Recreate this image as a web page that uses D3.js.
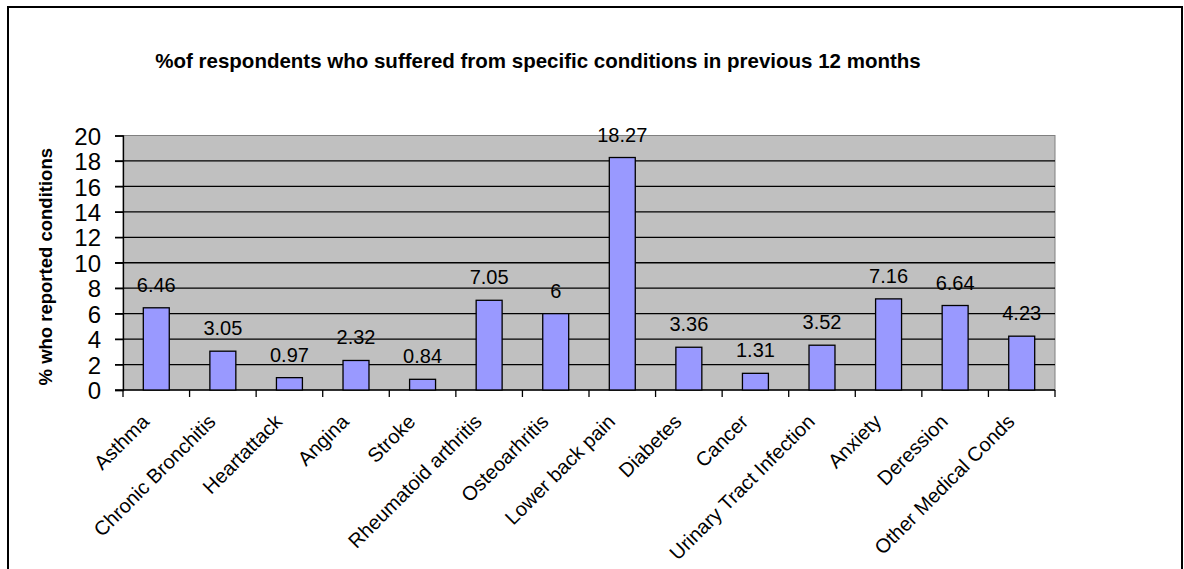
<script src="https://cdnjs.cloudflare.com/ajax/libs/d3/7.8.5/d3.min.js"></script>
<style>
  body { margin: 0; background: #fff; }
  text { font-family: Arial, "Liberation Sans", sans-serif; }
</style>
<body>
<svg id="vis"></svg>
<script>
  var visWidth = 1184
  var visHeight = 569

  var conditions = ['Asthma', 'Chronic Bronchitis', 'Heartattack', 'Angina', 'Stroke',
    'Rheumatoid arthritis', 'Osteoarhritis', 'Lower back pain', 'Diabetes', 'Cancer',
    'Urinary Tract Infection', 'Anxiety', 'Deression', 'Other Medical Conds']
  var percents = [6.46, 3.05, 0.97, 2.32, 0.84, 7.05, 6, 18.27, 3.36, 1.31, 3.52, 7.16, 6.64, 4.23]
  var yTicks = [0, 2, 4, 6, 8, 10, 12, 14, 16, 18, 20]

  var plot = {left: 123, right: 1055, top: 135.5, bottom: 390}

  var svg = d3.select('#vis')
    .attr('width', visWidth)
    .attr('height', visHeight)

  // outer chart frame
  svg.append('rect')
    .attr('x', 8).attr('y', 7)
    .attr('width', 1174).attr('height', 570)
    .attr('fill', 'white')
    .attr('stroke', 'black')
    .attr('stroke-width', 2)

  var x = d3.scaleBand()
    .domain(conditions)
    .range([plot.left, plot.right])
    .paddingInner(0.61)
    .paddingOuter(0.305)

  var y = d3.scaleLinear()
    .domain([0, 20])
    .range([plot.bottom, plot.top])

  // plot area
  svg.append('rect')
    .attr('x', plot.left).attr('y', plot.top)
    .attr('width', plot.right - plot.left)
    .attr('height', plot.bottom - plot.top)
    .attr('fill', '#c0c0c0')
    .attr('stroke', '#808080')

  // gridlines
  svg.selectAll('.grid')
    .data(yTicks.filter(d => d > 0 && d < 20))
    .enter().append('line')
    .attr('x1', plot.left - 8).attr('x2', plot.right)
    .attr('y1', d => y(d)).attr('y2', d => y(d))
    .attr('stroke', 'black')
    .attr('stroke-width', 1.3)

  var yAxis = svg.append('g')
    .attr('transform', 'translate(' + plot.left + ',0)')
    .call(d3.axisLeft(y).tickValues(yTicks).tickSize(8).tickPadding(14))
  yAxis.select('.domain').attr('stroke', 'black').attr('stroke-width', 1.3)
  yAxis.selectAll('line').attr('stroke-width', 1.3)
  yAxis.selectAll('text')
    .attr('font-size', 24)
    .attr('font-family', 'Arial, "Liberation Sans", sans-serif')
    .attr('dy', '0.36em')

  // x axis
  var xAxis = svg.append('g')
    .attr('transform', 'translate(0,' + plot.bottom + ')')
  xAxis.append('line')
    .attr('x1', plot.left - 8).attr('x2', plot.right)
    .attr('stroke', 'black').attr('stroke-width', 1.3)
  xAxis.selectAll('.tick')
    .data(d3.range(conditions.length + 1))
    .enter().append('line')
    .attr('x1', i => plot.left + i * x.step())
    .attr('x2', i => plot.left + i * x.step())
    .attr('y1', 0).attr('y2', 7)
    .attr('stroke', 'black').attr('stroke-width', 1.3)

  xAxis.selectAll('.lbl')
    .data(conditions)
    .enter().append('text')
    .attr('transform', d => 'translate(' + (x(d) + x.bandwidth() / 2 - 6) + ',33) rotate(-45)')
    .attr('text-anchor', 'end')
    .attr('font-size', 20)
    .text(d => d)

  // bars
  svg.selectAll('.bar')
    .data(percents)
    .enter().append('rect')
    .attr('x', (d, i) => x(conditions[i]))
    .attr('y', d => y(d))
    .attr('width', x.bandwidth())
    .attr('height', d => y(0) - y(d))
    .attr('fill', '#9999ff')
    .attr('stroke', 'black')
    .attr('stroke-width', 1.3)

  // value labels
  svg.selectAll('.val')
    .data(percents)
    .enter().append('text')
    .attr('x', (d, i) => x(conditions[i]) + x.bandwidth() / 2)
    .attr('y', d => y(d) - 16)
    .attr('text-anchor', 'middle')
    .attr('font-size', 20)
    .text(d => d)

  // titles
  svg.append('text')
    .attr('x', 538).attr('y', 68)
    .attr('text-anchor', 'middle')
    .attr('font-size', 20.5)
    .attr('font-weight', 'bold')
    .text('%of respondents who suffered from specific conditions in previous 12 months')

  svg.append('text')
    .attr('transform', 'translate(52,' + ((plot.top + plot.bottom) / 2 + 4) + ') rotate(-90)')
    .attr('text-anchor', 'middle')
    .attr('font-size', 18.5)
    .attr('font-weight', 'bold')
    .text('% who reported conditions')
</script>
</body>
